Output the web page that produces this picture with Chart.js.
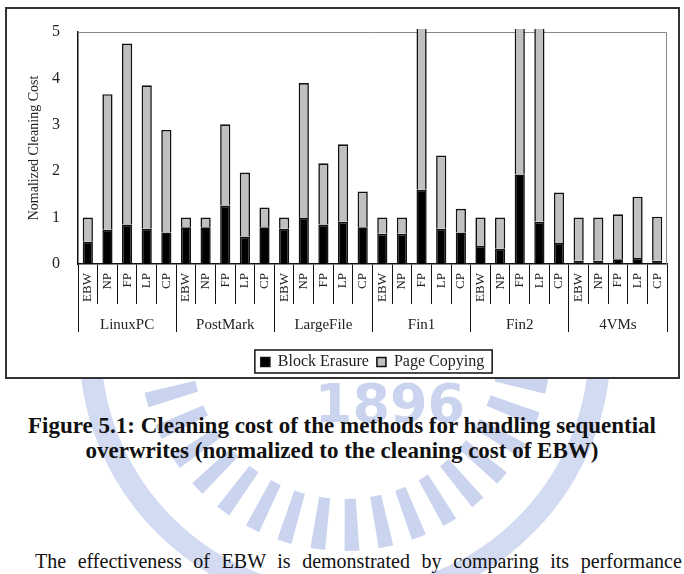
<!DOCTYPE html>
<html>
<head>
<meta charset="utf-8">
<script src="https://cdn.jsdelivr.net/npm/chart.js@4.4.1/dist/chart.umd.min.js"></script>
<style>
    body { margin: 0; width: 684px; height: 574px; overflow: hidden; background: #fff; position: relative; font-family: 'Liberation Serif', 'Times New Roman', serif; }
    #mark { position: absolute; left: 0; top: 0; }
    #frame { position: absolute; left: 5px; top: 7px; width: 671px; height: 368px; border: 2px solid #333; background: #fff; }
    #chart { position: absolute; left: 0; top: 0; }
    #caption { position: absolute; left: 0; width: 684px; top: 413px; text-align: center; font-weight: bold; font-size: 23px; line-height: 25px; color: #111; }
    #para { position: absolute; left: 35px; top: 549px; white-space: nowrap; font-size: 20px; line-height: 24px; word-spacing: 6.6px; color: #111; }
</style>
</head>
<body>
<svg id="mark" width="684" height="574">
    <circle cx="345" cy="345" r="180" fill="none" stroke="#cbd4ef" stroke-width="52" stroke-dasharray="13 17"></circle>
    <circle cx="345" cy="345" r="255" fill="none" stroke="#d3dbf2" stroke-width="22"></circle>
    <text x="390" y="422" text-anchor="middle" font-family="DejaVu Sans" font-weight="bold" font-size="54" fill="#cbd4ef">1896</text>
</svg>
<div id="frame"></div>
<canvas id="chart" width="684" height="384"></canvas>
<div id="caption">Figure 5.1: Cleaning cost of the methods for handling sequential<br>overwrites (normalized to the cleaning cost of EBW)</div>
<div id="para">The effectiveness of EBW is demonstrated by comparing its performance</div>

<script>
// methods per workload, workloads along the bottom
const methods = ['EBW', 'NP', 'FP', 'LP', 'CP'];
const workloads = ['LinuxPC', 'PostMark', 'LargeFile', 'Fin1', 'Fin2', '4VMs'];

// normalized to EBW (bars above 5 are cut off in the original)
const blockErasure = [
    0.48, 0.74, 0.85, 0.76, 0.68,
    0.79, 0.79, 1.26, 0.59, 0.79,
    0.76, 0.99, 0.85, 0.91, 0.79,
    0.65, 0.65, 1.60, 0.76, 0.68,
    0.39, 0.33, 1.93, 0.91, 0.45,
    0.07, 0.07, 0.10, 0.13, 0.07
];
const pageCopying = [
    0.52, 2.92, 3.90, 3.09, 2.21,
    0.21, 0.21, 1.75, 1.38, 0.43,
    0.24, 2.91, 1.32, 1.67, 0.77,
    0.35, 0.35, 4.60, 1.58, 0.51,
    0.61, 0.67, 5.47, 5.59, 1.09,
    0.93, 0.93, 0.97, 1.32, 0.95
];
const yTicks = [0, 1, 2, 3, 4, 5];

const serif = "'Liberation Serif', 'Times New Roman', serif";
const ink = '#222';

// one label per bar: every workload repeats the method list
const barLabels = [];
workloads.forEach(() => methods.forEach(m => barLabels.push(m)));

// thin plot border on top/right and a box round the legend
const framePlugin = {
    id: 'frame',
    beforeDatasetsDraw(chart) {
        const {ctx, chartArea: a} = chart;
        ctx.save();
        ctx.strokeStyle = '#888';
        ctx.lineWidth = 1;
        ctx.beginPath();
        ctx.moveTo(a.left, a.top + 0.5);
        ctx.lineTo(a.right - 0.5, a.top + 0.5);
        ctx.lineTo(a.right - 0.5, a.bottom);
        ctx.stroke();
        ctx.restore();
    },
    afterDraw(chart) {
        const boxes = chart.legend.legendHitBoxes;
        if (!boxes || !boxes.length) return;
        const first = boxes[0];
        const last = boxes[boxes.length - 1];
        const left = first.left - 6;
        const right = last.left + last.width + 8;
        const top = first.top - 4;
        const ctx = chart.ctx;
        ctx.save();
        ctx.strokeStyle = '#111';
        ctx.lineWidth = 1.5;
        ctx.strokeRect(left, top, right - left, first.height + 7);
        ctx.restore();
    }
};

const ctx = document.getElementById('chart').getContext('2d');
new Chart(ctx, {
    type: 'bar',
    data: {
        labels: barLabels,
        datasets: [
            {
                label: 'Block Erasure',
                data: blockErasure,
                backgroundColor: '#000',
                borderColor: '#111',
                borderWidth: 1.6,
                barPercentage: 0.52,
                categoryPercentage: 1.0,
                clip: 3
            },
            {
                label: 'Page Copying',
                data: pageCopying,
                backgroundColor: '#c0c0c0',
                borderColor: '#111',
                borderWidth: 1.6,
                barPercentage: 0.52,
                categoryPercentage: 1.0,
                clip: 3
            }
        ]
    },
    options: {
        responsive: false,
        animation: false,
        layout: {
            padding: {left: 8, right: 17, top: 32, bottom: 4}
        },
        plugins: {
            legend: {
                position: 'bottom',
                fullSize: false,
                labels: {
                    boxWidth: 9,
                    boxHeight: 9,
                    padding: 8,
                    color: ink,
                    font: {family: serif, size: 16}
                }
            },
            tooltip: {enabled: false}
        },
        scales: {
            x: {
                stacked: true,
                weight: 0,
                offset: true,
                border: {color: '#111', width: 1.5},
                grid: {
                    offset: true,
                    drawOnChartArea: false,
                    drawTicks: true,
                    tickLength: 40,
                    color: '#111'
                },
                ticks: {
                    autoSkip: false,
                    minRotation: 90,
                    maxRotation: 90,
                    padding: -31,
                    color: ink,
                    font: {family: serif, size: 13}
                },
                afterFit: scale => { scale.height = 40; }
            },
            x2: {
                type: 'category',
                position: 'bottom',
                weight: 1,
                labels: workloads,
                offset: true,
                border: {display: false},
                grid: {
                    offset: true,
                    drawOnChartArea: false,
                    drawTicks: true,
                    tickLength: 28,
                    color: '#111'
                },
                ticks: {
                    autoSkip: false,
                    maxRotation: 0,
                    padding: -16,
                    color: ink,
                    font: {family: serif, size: 15}
                },
                afterFit: scale => { scale.height = 42; }
            },
            y: {
                stacked: true,
                min: 0,
                max: 5,
                afterBuildTicks: scale => { scale.ticks = yTicks.map(v => ({value: v})); },
                border: {color: '#111', width: 1.5},
                grid: {display: false, drawTicks: false},
                ticks: {
                    padding: 18,
                    color: ink,
                    font: {family: serif, size: 16}
                },
                title: {
                    display: true,
                    text: 'Nomalized Cleaning Cost',
                    color: ink,
                    padding: {top: 18, bottom: 0},
                    font: {family: serif, size: 14}
                },
                afterFit: scale => { scale.width = 70; }
            }
        }
    },
    plugins: [framePlugin]
});
</script>
</body>
</html>
